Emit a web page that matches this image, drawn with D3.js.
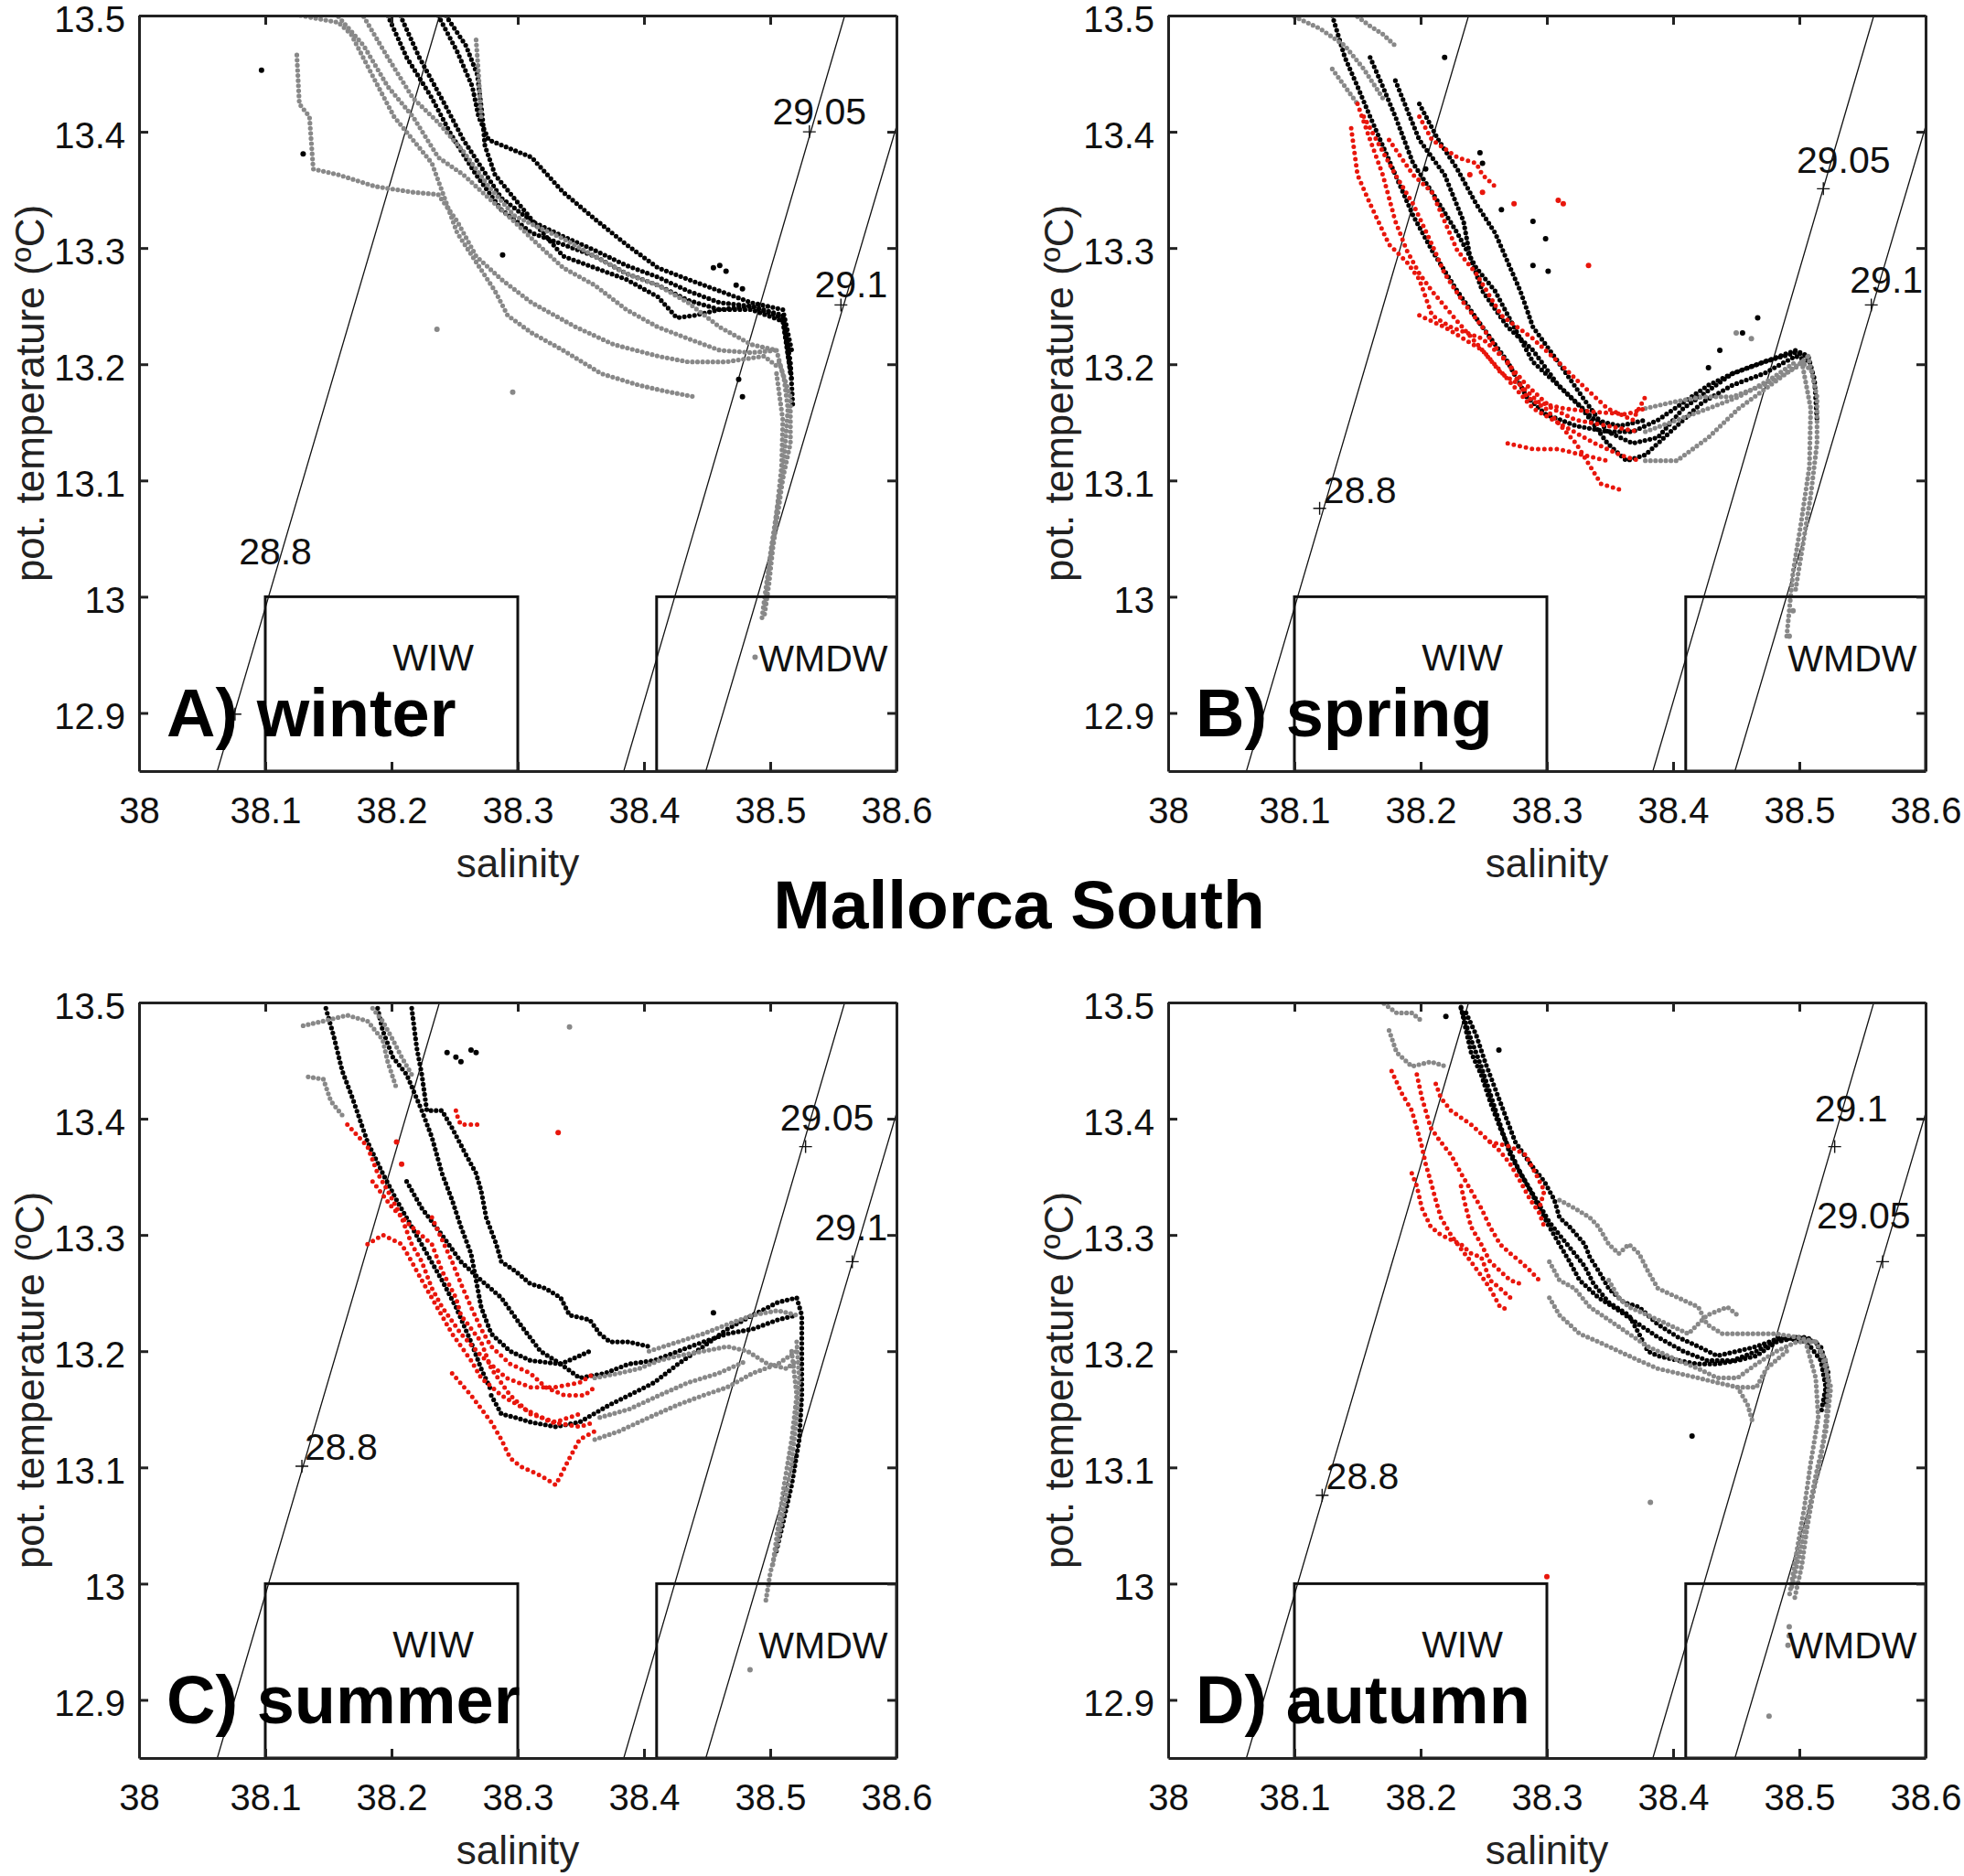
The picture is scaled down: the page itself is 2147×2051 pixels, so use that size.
<!DOCTYPE html>
<html>
<head>
<meta charset="utf-8">
<script src="https://cdn.jsdelivr.net/npm/d3@7"></script>
<style>
  body { margin: 0; background: #fff; }
  svg { display: block; }
</style>
</head>
<body>
<svg id="chart" width="2147" height="2051"></svg>
<script>
// axis ticks
var xTicks = [38, 38.1, 38.2, 38.3, 38.4, 38.5, 38.6];
var yTicks = [12.9, 13.0, 13.1, 13.2, 13.3, 13.4, 13.5];

// isopycnals: salinity at T = 12.85 and T = 13.5
var isoLines = [
  [[38.062, 12.85], [38.238, 13.5]],
  [[38.384, 12.85], [38.559, 13.5]],
  [[38.449, 12.85], [38.626, 13.5]]
];

// water mass boxes
var boxes = [
  {name: "WIW",  s: [38.10, 38.30], t: [12.85, 13.0], at: [38.233, 12.948]},
  {name: "WMDW", s: [38.41, 38.60], t: [12.85, 13.0], at: [38.542, 12.947]}
];

// ---- A) winter ----
var winterBlack = [
  [[38.197,13.500],[38.212,13.464],[38.232,13.429],[38.247,13.398],[38.267,13.363],[38.287,13.333],[38.311,13.313],[38.336,13.303],[38.361,13.293],[38.386,13.278],[38.411,13.268],[38.435,13.255],[38.460,13.247],[38.485,13.250],[38.510,13.240],[38.516,13.202],[38.518,13.162]],
  [[38.207,13.500],[38.222,13.464],[38.242,13.424],[38.257,13.393],[38.272,13.368],[38.287,13.343],[38.311,13.323],[38.336,13.310],[38.361,13.298],[38.386,13.285],[38.411,13.275],[38.435,13.263],[38.460,13.253],[38.485,13.250],[38.510,13.242],[38.516,13.192]],
  [[38.237,13.500],[38.252,13.469],[38.264,13.439],[38.269,13.413],[38.277,13.393],[38.311,13.378],[38.336,13.348],[38.361,13.325],[38.386,13.303],[38.411,13.283],[38.435,13.273],[38.460,13.263],[38.485,13.253],[38.510,13.247],[38.517,13.212]],
  [[38.243,13.500],[38.259,13.474],[38.268,13.449],[38.272,13.413],[38.274,13.388],[38.282,13.363],[38.297,13.343],[38.316,13.318],[38.336,13.293],[38.361,13.283],[38.386,13.273],[38.411,13.258],[38.426,13.240],[38.440,13.242],[38.460,13.247],[38.485,13.247],[38.510,13.237],[38.517,13.187]]
];
var winterGray = [
  [[38.125,13.466],[38.127,13.424],[38.135,13.413],[38.138,13.368],[38.158,13.363],[38.187,13.353],[38.217,13.348],[38.237,13.346],[38.252,13.323],[38.267,13.293],[38.287,13.273],[38.311,13.253],[38.346,13.232],[38.376,13.217],[38.411,13.207],[38.435,13.202],[38.465,13.202],[38.495,13.207],[38.507,13.197]],
  [[38.128,13.500],[38.158,13.494],[38.168,13.484],[38.187,13.444],[38.202,13.413],[38.217,13.393],[38.232,13.373],[38.242,13.343],[38.252,13.313],[38.267,13.288],[38.282,13.263],[38.292,13.242],[38.311,13.227],[38.336,13.212],[38.366,13.192],[38.396,13.182],[38.416,13.177],[38.440,13.172]],
  [[38.158,13.499],[38.178,13.474],[38.197,13.439],[38.217,13.413],[38.237,13.378],[38.257,13.363],[38.277,13.343],[38.297,13.323],[38.316,13.303],[38.336,13.283],[38.361,13.268],[38.386,13.247],[38.411,13.232],[38.435,13.222],[38.460,13.212],[38.485,13.210],[38.505,13.212]],
  [[38.178,13.499],[38.197,13.464],[38.217,13.429],[38.237,13.408],[38.257,13.383],[38.277,13.353],[38.297,13.328],[38.316,13.318],[38.336,13.308],[38.361,13.293],[38.386,13.278],[38.411,13.268],[38.435,13.253],[38.460,13.232],[38.485,13.217],[38.505,13.212]],
  [[38.267,13.479],[38.269,13.449],[38.271,13.413]],
  [[38.505,13.212],[38.511,13.187],[38.514,13.162],[38.512,13.132],[38.510,13.102],[38.506,13.071],[38.502,13.041],[38.499,13.011],[38.495,12.981]],
  [[38.507,13.202],[38.516,13.172],[38.516,13.132],[38.507,13.087],[38.500,13.036],[38.496,12.991]],
  [[38.505,13.192],[38.510,13.152],[38.509,13.112],[38.504,13.061],[38.497,13.011],[38.493,12.978]]
];
var winterRed = [];
var winterBlackDots = [[38.097,13.453],[38.130,13.381],[38.288,13.294],[38.455,13.283],[38.460,13.285],[38.465,13.280],[38.473,13.268],[38.478,13.265],[38.475,13.187],[38.478,13.172]];
var winterGrayDots = [[38.236,13.230],[38.296,13.176],[38.488,12.948]];
var winterRedDots = [];
var winterIso = [
  {text: "28.8",  plus: [38.076,12.899], at: [38.108,13.039]},
  {text: "29.05", plus: [38.531,13.400], at: [38.539,13.418]},
  {text: "29.1",  plus: [38.556,13.251], at: [38.564,13.269]}
];

// ---- B) spring ----
var springBlack = [
  [[38.130,13.500],[38.140,13.464],[38.150,13.439],[38.160,13.413],[38.170,13.388],[38.180,13.363],[38.194,13.328],[38.209,13.298],[38.229,13.263],[38.249,13.232],[38.269,13.202],[38.284,13.172],[38.299,13.157],[38.323,13.147],[38.348,13.142],[38.368,13.142],[38.388,13.152],[38.408,13.167],[38.428,13.182],[38.447,13.192],[38.472,13.202],[38.497,13.210],[38.507,13.207],[38.512,13.187],[38.514,13.152]],
  [[38.160,13.464],[38.170,13.439],[38.180,13.413],[38.194,13.373],[38.209,13.348],[38.229,13.313],[38.244,13.283],[38.259,13.263],[38.274,13.232],[38.289,13.202],[38.309,13.182],[38.328,13.162],[38.348,13.132],[38.363,13.117],[38.378,13.122],[38.398,13.142],[38.423,13.167],[38.447,13.182],[38.472,13.192],[38.497,13.207],[38.509,13.202]],
  [[38.199,13.424],[38.214,13.393],[38.229,13.368],[38.244,13.338],[38.259,13.313],[38.279,13.263],[38.289,13.232],[38.309,13.202],[38.328,13.172],[38.348,13.142],[38.368,13.132],[38.388,13.137],[38.408,13.162],[38.447,13.192],[38.497,13.212],[38.507,13.207]],
  [[38.180,13.444],[38.199,13.393],[38.219,13.363],[38.234,13.323],[38.239,13.293],[38.249,13.263],[38.269,13.232],[38.289,13.212],[38.309,13.182],[38.338,13.152],[38.358,13.147],[38.378,13.152]]
];
var springGray = [
  [[38.100,13.499],[38.120,13.489],[38.140,13.474],[38.155,13.454],[38.170,13.429]],
  [[38.150,13.499],[38.160,13.491],[38.170,13.484],[38.180,13.474]],
  [[38.130,13.454],[38.140,13.439],[38.150,13.424]],
  [[38.378,13.162],[38.398,13.167],[38.423,13.172],[38.447,13.172],[38.472,13.182],[38.497,13.197],[38.507,13.207]],
  [[38.378,13.117],[38.403,13.117],[38.428,13.137],[38.452,13.162],[38.477,13.182],[38.502,13.202],[38.512,13.192]],
  [[38.378,13.142],[38.403,13.152],[38.428,13.162],[38.452,13.172],[38.477,13.187],[38.497,13.202]],
  [[38.507,13.207],[38.514,13.172],[38.514,13.132],[38.509,13.087],[38.503,13.046],[38.497,13.006]],
  [[38.502,13.202],[38.509,13.162],[38.508,13.112],[38.501,13.061],[38.495,13.021],[38.490,12.966]]
];
var springRed = [
  [[38.150,13.424],[38.160,13.393],[38.170,13.363],[38.180,13.323],[38.189,13.298],[38.199,13.278],[38.209,13.263],[38.229,13.237],[38.249,13.212],[38.269,13.187],[38.289,13.162],[38.313,13.147],[38.338,13.132],[38.358,13.122],[38.373,13.117]],
  [[38.155,13.413],[38.170,13.383],[38.180,13.363],[38.194,13.338],[38.209,13.303],[38.219,13.278],[38.234,13.253],[38.249,13.232],[38.264,13.207],[38.284,13.182],[38.304,13.162],[38.323,13.152],[38.348,13.147],[38.373,13.142]],
  [[38.145,13.403],[38.150,13.363],[38.160,13.338],[38.175,13.303],[38.189,13.288],[38.199,13.273],[38.209,13.242],[38.224,13.232],[38.249,13.222],[38.269,13.202],[38.284,13.172],[38.299,13.162],[38.323,13.132],[38.343,13.097],[38.358,13.092]],
  [[38.175,13.393],[38.194,13.363],[38.209,13.348],[38.219,13.323],[38.229,13.298],[38.244,13.278],[38.264,13.242],[38.289,13.222],[38.309,13.202],[38.328,13.182],[38.348,13.162],[38.368,13.152],[38.378,13.172]],
  [[38.199,13.413],[38.209,13.393],[38.229,13.378],[38.244,13.373],[38.249,13.363],[38.259,13.353]],
  [[38.269,13.132],[38.289,13.127],[38.309,13.127],[38.328,13.122],[38.348,13.117]],
  [[38.199,13.242],[38.219,13.232],[38.234,13.222],[38.249,13.212],[38.264,13.192],[38.279,13.182],[38.294,13.167],[38.313,13.162],[38.338,13.159],[38.363,13.157],[38.378,13.162]]
];
var springBlackDots = [[38.219,13.464],[38.247,13.382],[38.249,13.373],[38.264,13.333],[38.289,13.323],[38.299,13.308],[38.289,13.285],[38.301,13.280],[38.467,13.240],[38.455,13.227],[38.437,13.212],[38.428,13.197],[38.204,13.368]];
var springGrayDots = [[38.450,13.227],[38.462,13.222],[38.495,12.988],[38.492,12.966]];
var springRedDots = [[38.309,13.341],[38.313,13.338],[38.333,13.285],[38.274,13.338],[38.249,13.348],[38.239,13.363]];
var springIso = [
  {text: "28.8",  plus: [38.120,13.076], at: [38.152,13.092]},
  {text: "29.05", plus: [38.519,13.351], at: [38.535,13.376]},
  {text: "29.1",  plus: [38.557,13.251], at: [38.569,13.273]}
];

// ---- C) summer ----
var summerBlack = [
  [[38.216,13.495],[38.220,13.461],[38.224,13.438],[38.228,13.407],[38.240,13.407],[38.248,13.392],[38.259,13.369],[38.267,13.353],[38.271,13.338],[38.275,13.315],[38.283,13.292],[38.287,13.277],[38.298,13.269],[38.310,13.258],[38.322,13.254],[38.334,13.246],[38.341,13.231],[38.357,13.227],[38.365,13.215],[38.373,13.208],[38.388,13.208],[38.404,13.204]],
  [[38.148,13.495],[38.154,13.472],[38.161,13.441],[38.169,13.418],[38.181,13.380],[38.193,13.353],[38.204,13.330],[38.216,13.307],[38.228,13.284],[38.240,13.261],[38.251,13.238],[38.263,13.208],[38.271,13.185],[38.279,13.166]],
  [[38.189,13.495],[38.193,13.476],[38.201,13.453],[38.212,13.438],[38.224,13.407],[38.232,13.384],[38.240,13.353],[38.248,13.330],[38.255,13.307],[38.263,13.284],[38.267,13.261],[38.271,13.238],[38.279,13.215],[38.294,13.200],[38.310,13.192],[38.334,13.189],[38.349,13.196],[38.357,13.200]],
  [[38.212,13.346],[38.224,13.323],[38.240,13.300],[38.255,13.277],[38.271,13.261],[38.287,13.246],[38.302,13.223],[38.318,13.200],[38.334,13.189]],
  [[38.279,13.162],[38.287,13.146],[38.298,13.143],[38.310,13.139],[38.330,13.135],[38.349,13.139],[38.373,13.154],[38.388,13.162],[38.408,13.173],[38.427,13.189],[38.447,13.204],[38.466,13.219],[38.486,13.231],[38.506,13.242],[38.521,13.246],[38.525,13.231],[38.525,13.200],[38.525,13.162],[38.523,13.124],[38.517,13.085],[38.509,13.047],[38.504,13.024]],
  [[38.334,13.189],[38.349,13.177],[38.369,13.181],[38.388,13.189],[38.408,13.192],[38.427,13.200],[38.447,13.208],[38.466,13.215],[38.486,13.219],[38.506,13.227],[38.521,13.231]]
];
var summerGray = [
  [[38.130,13.480],[38.146,13.484],[38.165,13.489],[38.181,13.484],[38.193,13.468],[38.197,13.449],[38.204,13.426]],
  [[38.134,13.436],[38.146,13.434],[38.152,13.415],[38.161,13.403]],
  [[38.185,13.495],[38.193,13.484],[38.201,13.468],[38.208,13.453],[38.216,13.438]],
  [[38.361,13.177],[38.380,13.181],[38.396,13.185],[38.412,13.192],[38.427,13.196],[38.447,13.200],[38.466,13.204],[38.482,13.200],[38.498,13.189],[38.513,13.185],[38.521,13.192]],
  [[38.361,13.124],[38.380,13.131],[38.404,13.143],[38.427,13.154],[38.447,13.162],[38.466,13.169],[38.486,13.181],[38.506,13.189],[38.521,13.200]],
  [[38.365,13.143],[38.388,13.150],[38.412,13.162],[38.435,13.173],[38.459,13.181],[38.482,13.192]],
  [[38.404,13.200],[38.427,13.208],[38.447,13.215],[38.466,13.223],[38.486,13.231],[38.506,13.235],[38.521,13.231]],
  [[38.521,13.208],[38.523,13.177],[38.521,13.143],[38.517,13.104],[38.511,13.066],[38.506,13.035],[38.500,13.009],[38.496,12.982]],
  [[38.517,13.200],[38.521,13.162],[38.517,13.124],[38.511,13.085],[38.506,13.047],[38.502,13.016]]
];
var summerRed = [
  [[38.181,13.292],[38.193,13.300],[38.208,13.292],[38.216,13.277],[38.224,13.261],[38.236,13.238],[38.248,13.215],[38.263,13.192],[38.271,13.177],[38.287,13.162],[38.306,13.150],[38.326,13.139],[38.349,13.135],[38.361,13.139]],
  [[38.165,13.395],[38.181,13.376],[38.189,13.353],[38.197,13.338],[38.208,13.315],[38.216,13.292],[38.224,13.277],[38.232,13.254],[38.240,13.238],[38.255,13.215],[38.271,13.196],[38.291,13.177],[38.310,13.169],[38.330,13.169],[38.349,13.173],[38.361,13.181]],
  [[38.185,13.346],[38.201,13.323],[38.216,13.307],[38.232,13.292],[38.240,13.269],[38.251,13.246],[38.255,13.231],[38.271,13.208],[38.279,13.185],[38.294,13.162],[38.310,13.146],[38.330,13.139],[38.349,13.146]],
  [[38.248,13.181],[38.263,13.162],[38.279,13.139],[38.287,13.124],[38.294,13.108],[38.302,13.101],[38.318,13.093],[38.330,13.085],[38.334,13.093],[38.341,13.108],[38.349,13.124],[38.361,13.131]],
  [[38.232,13.315],[38.240,13.296],[38.248,13.277],[38.255,13.258],[38.263,13.238],[38.271,13.219],[38.279,13.204],[38.294,13.189],[38.310,13.181],[38.322,13.169],[38.337,13.162],[38.353,13.162],[38.361,13.169]],
  [[38.251,13.407],[38.253,13.399],[38.255,13.395],[38.271,13.395]]
];
var summerBlackDots = [[38.244,13.457],[38.251,13.453],[38.255,13.449],[38.267,13.457],[38.263,13.459],[38.455,13.233]];
var summerGrayDots = [[38.484,12.926],[38.341,13.479]];
var summerRedDots = [[38.332,13.388],[38.204,13.380],[38.208,13.361]];
var summerIso = [
  {text: "28.8",  plus: [38.129,13.101], at: [38.160,13.118]},
  {text: "29.05", plus: [38.528,13.376], at: [38.545,13.401]},
  {text: "29.1",  plus: [38.565,13.277], at: [38.564,13.307]}
];

// ---- D) autumn ----
var autumnBlack = [
  [[38.232,13.496],[38.236,13.476],[38.240,13.457],[38.248,13.438],[38.255,13.415],[38.263,13.392],[38.271,13.372],[38.279,13.353],[38.287,13.338],[38.294,13.323],[38.302,13.307],[38.310,13.292],[38.318,13.277],[38.326,13.261],[38.341,13.246],[38.357,13.235],[38.373,13.223],[38.388,13.212],[38.408,13.200],[38.427,13.192],[38.447,13.192],[38.466,13.200],[38.486,13.212],[38.506,13.208],[38.517,13.192],[38.521,13.169],[38.517,13.146]],
  [[38.232,13.495],[38.240,13.468],[38.248,13.445],[38.255,13.422],[38.263,13.395],[38.271,13.369],[38.283,13.346],[38.294,13.326],[38.302,13.311],[38.310,13.300],[38.322,13.284],[38.330,13.273],[38.337,13.258],[38.349,13.242],[38.365,13.231],[38.373,13.215],[38.380,13.200],[38.388,13.196],[38.404,13.192],[38.420,13.189],[38.435,13.189],[38.451,13.192],[38.466,13.196],[38.482,13.208],[38.498,13.212],[38.513,13.208],[38.521,13.189]],
  [[38.236,13.491],[38.244,13.472],[38.251,13.449],[38.259,13.426],[38.267,13.403],[38.275,13.380],[38.287,13.361],[38.298,13.346],[38.306,13.330],[38.310,13.315],[38.318,13.307],[38.330,13.292],[38.334,13.281],[38.341,13.269],[38.349,13.254],[38.361,13.242],[38.373,13.238],[38.388,13.223],[38.404,13.212],[38.420,13.204],[38.435,13.196],[38.451,13.200],[38.466,13.204],[38.486,13.212],[38.506,13.212],[38.517,13.204],[38.523,13.181],[38.521,13.154]]
];
var autumnGray = [
  [[38.171,13.499],[38.181,13.491],[38.193,13.491],[38.201,13.484]],
  [[38.175,13.476],[38.181,13.457],[38.193,13.445],[38.208,13.449],[38.220,13.445]],
  [[38.310,13.330],[38.322,13.323],[38.334,13.315],[38.341,13.307],[38.349,13.292],[38.357,13.284],[38.365,13.292],[38.373,13.284],[38.380,13.269],[38.388,13.254],[38.404,13.246],[38.420,13.238],[38.427,13.223],[38.439,13.215],[38.451,13.215],[38.466,13.215],[38.482,13.215],[38.498,13.212],[38.513,13.208]],
  [[38.302,13.277],[38.310,13.261],[38.322,13.254],[38.334,13.238],[38.349,13.227],[38.365,13.215],[38.380,13.204],[38.388,13.200],[38.404,13.192],[38.420,13.185],[38.435,13.177],[38.451,13.177],[38.466,13.189],[38.482,13.200],[38.498,13.208],[38.513,13.208]],
  [[38.302,13.246],[38.310,13.231],[38.326,13.215],[38.341,13.208],[38.357,13.200],[38.373,13.192],[38.388,13.185],[38.404,13.181],[38.420,13.177],[38.435,13.173],[38.451,13.169],[38.466,13.169],[38.474,13.185],[38.490,13.200]],
  [[38.349,13.261],[38.357,13.246],[38.365,13.238],[38.380,13.231],[38.396,13.223],[38.412,13.215],[38.427,13.231],[38.443,13.238],[38.451,13.231]],
  [[38.451,13.169],[38.459,13.154],[38.463,13.139]],
  [[38.513,13.208],[38.521,13.192],[38.523,13.169],[38.521,13.139],[38.517,13.108],[38.511,13.078],[38.506,13.047],[38.502,13.016],[38.496,12.986]],
  [[38.517,13.200],[38.525,13.169],[38.521,13.131],[38.513,13.093],[38.506,13.055],[38.500,13.024],[38.494,12.997]],
  [[38.506,13.204],[38.513,13.177],[38.515,13.143],[38.509,13.104],[38.504,13.066],[38.498,13.028],[38.492,12.989]]
];
var autumnRed = [
  [[38.177,13.441],[38.185,13.422],[38.193,13.407],[38.197,13.392],[38.201,13.376],[38.204,13.361],[38.208,13.346],[38.212,13.330],[38.216,13.315],[38.224,13.300],[38.232,13.288],[38.240,13.277],[38.248,13.265],[38.255,13.254],[38.263,13.238],[38.271,13.235]],
  [[38.197,13.438],[38.201,13.418],[38.204,13.407],[38.208,13.392],[38.216,13.380],[38.224,13.369],[38.232,13.353],[38.240,13.338],[38.248,13.323],[38.255,13.307],[38.263,13.292],[38.271,13.284],[38.279,13.277],[38.287,13.269],[38.294,13.261]],
  [[38.193,13.353],[38.197,13.342],[38.201,13.323],[38.208,13.307],[38.216,13.300],[38.232,13.292],[38.240,13.284],[38.248,13.281],[38.255,13.261],[38.263,13.254],[38.271,13.246]],
  [[38.212,13.430],[38.216,13.418],[38.224,13.407],[38.240,13.395],[38.251,13.384],[38.263,13.372],[38.271,13.361],[38.279,13.346],[38.287,13.330],[38.294,13.319],[38.298,13.307]],
  [[38.255,13.380],[38.271,13.376],[38.283,13.369],[38.291,13.353],[38.298,13.338],[38.294,13.323]],
  [[38.232,13.342],[38.236,13.323],[38.240,13.307],[38.248,13.292],[38.255,13.277],[38.263,13.269],[38.271,13.261],[38.279,13.258]]
];
var autumnBlackDots = [[38.262,13.459],[38.415,13.127],[38.220,13.488]];
var autumnGrayDots = [[38.382,13.070],[38.492,12.955],[38.491,12.947],[38.492,12.963],[38.476,12.886]];
var autumnRedDots = [[38.300,13.006]];
var autumnIso = [
  {text: "28.8",  plus: [38.122,13.076], at: [38.154,13.093]},
  {text: "29.1",  plus: [38.528,13.376], at: [38.541,13.409]},
  {text: "29.05", plus: [38.566,13.277], at: [38.551,13.317]}
];

// ---- layout ----
var W = 828, H = 826;
var FONT = "'Liberation Sans', Arial, Helvetica, sans-serif";
var panels = [
  {key: "a", name: "A) winter", ox: 152,  oy: 17,   black: winterBlack, gray: winterGray, red: winterRed, bDots: winterBlackDots, gDots: winterGrayDots, rDots: winterRedDots, iso: winterIso},
  {key: "b", name: "B) spring", ox: 1277, oy: 17,   black: springBlack, gray: springGray, red: springRed, bDots: springBlackDots, gDots: springGrayDots, rDots: springRedDots, iso: springIso},
  {key: "c", name: "C) summer", ox: 152,  oy: 1096, black: summerBlack, gray: summerGray, red: summerRed, bDots: summerBlackDots, gDots: summerGrayDots, rDots: summerRedDots, iso: summerIso},
  {key: "d", name: "D) autumn", ox: 1277, oy: 1096, black: autumnBlack, gray: autumnGray, red: autumnRed, bDots: autumnBlackDots, gDots: autumnGrayDots, rDots: autumnRedDots, iso: autumnIso}
];
var colors = {black: "#000000", gray: "#888888", red: "#e8160c"};

var svg = d3.select("#chart");
svg.append("rect").attr("width", 2147).attr("height", 2051).attr("fill", "#fff");

var x = d3.scaleLinear().domain([38, 38.6]).range([0, W]);
var y = d3.scaleLinear().domain([12.85, 13.5]).range([H, 0]);
var line = d3.line().x(function(d){ return x(d[0]); }).y(function(d){ return y(d[1]); });
var fmt = function(d){ return String(+d.toFixed(1)); };

function styleAxis(g) {
  g.attr("font-family", FONT).attr("font-size", 40);
  g.selectAll("path.domain").attr("stroke", "#222").attr("stroke-width", 3);
  g.selectAll(".tick line").attr("stroke", "#222").attr("stroke-width", 3);
  g.selectAll(".tick text").attr("fill", "#111");
}

function traces(g, list, color, gap, width) {
  g.selectAll(null).data(list).enter().append("path")
    .attr("d", line)
    .attr("fill", "none")
    .attr("stroke", color)
    .attr("stroke-width", width)
    .attr("stroke-linecap", "round")
    .attr("stroke-dasharray", "0 " + gap);
}

function dots(g, list, color) {
  g.selectAll(null).data(list).enter().append("circle")
    .attr("cx", function(d){ return x(d[0]); })
    .attr("cy", function(d){ return y(d[1]); })
    .attr("r", 3)
    .attr("fill", color);
}

function drawPanel(p) {
  var g = svg.append("g").attr("transform", "translate(" + p.ox + "," + p.oy + ")");
  g.append("clipPath").attr("id", "clip-" + p.key)
    .append("rect").attr("width", W).attr("height", H);
  var plot = g.append("g").attr("clip-path", "url(#clip-" + p.key + ")");

  // isopycnals
  plot.selectAll(null).data(isoLines).enter().append("path")
    .attr("d", line).attr("fill", "none").attr("stroke", "#111").attr("stroke-width", 1.3);

  // data
  traces(plot, p.black, colors.black, 5.6, 5.2);
  dots(plot, p.bDots, colors.black);
  traces(plot, p.gray, colors.gray, 5.6, 5.2);
  dots(plot, p.gDots, colors.gray);
  traces(plot, p.red, colors.red, 6.8, 5.0);
  dots(plot, p.rDots, colors.red);

  // water mass boxes
  boxes.forEach(function(b){
    plot.append("rect")
      .attr("x", x(b.s[0])).attr("y", y(b.t[1]))
      .attr("width", x(b.s[1]) - x(b.s[0])).attr("height", y(b.t[0]) - y(b.t[1]))
      .attr("fill", "none").attr("stroke", "#111").attr("stroke-width", 3);
    g.append("text")
      .attr("x", x(b.at[0])).attr("y", y(b.at[1])).attr("dy", "0.35em")
      .attr("text-anchor", "middle").attr("font-family", FONT).attr("font-size", 41)
      .attr("fill", "#111").text(b.name);
  });

  // isopycnal labels
  p.iso.forEach(function(l){
    var px = x(l.plus[0]), py = y(l.plus[1]);
    plot.append("path")
      .attr("d", "M" + (px - 7) + "," + py + "H" + (px + 7) + "M" + px + "," + (py - 7) + "V" + (py + 7))
      .attr("stroke", "#111").attr("stroke-width", 1.4);
    g.append("text")
      .attr("x", x(l.at[0])).attr("y", y(l.at[1])).attr("dy", "0.35em")
      .attr("text-anchor", "middle").attr("font-family", FONT).attr("font-size", 41)
      .attr("fill", "#111").text(l.text);
  });

  // panel label
  g.append("text").attr("x", 30).attr("y", 788)
    .attr("font-family", FONT).attr("font-size", 74).attr("font-weight", "bold")
    .attr("fill", "#000").text(p.name);

  // axes with inward ticks on all sides
  g.append("g").attr("transform", "translate(0," + H + ")")
    .call(d3.axisBottom(x).tickValues(xTicks).tickFormat(fmt).tickSizeInner(-10).tickSizeOuter(0).tickPadding(29))
    .call(styleAxis);
  g.append("g")
    .call(d3.axisTop(x).tickValues(xTicks).tickFormat("").tickSizeInner(-10).tickSizeOuter(0))
    .call(styleAxis);
  g.append("g")
    .call(d3.axisLeft(y).tickValues(yTicks).tickFormat(fmt).tickSizeInner(-10).tickSizeOuter(0).tickPadding(15))
    .call(styleAxis)
    .selectAll(".tick text").attr("dy", "0.43em");
  g.append("g").attr("transform", "translate(" + W + ",0)")
    .call(d3.axisRight(y).tickValues(yTicks).tickFormat("").tickSizeInner(-10).tickSizeOuter(0))
    .call(styleAxis);

  // axis titles
  g.append("text").attr("x", W / 2).attr("y", H + 116)
    .attr("text-anchor", "middle").attr("font-family", FONT).attr("font-size", 44)
    .attr("fill", "#222").text("salinity");
  g.append("text").attr("transform", "translate(-104," + (H / 2) + ") rotate(-90)")
    .attr("text-anchor", "middle").attr("font-family", FONT).attr("font-size", 44)
    .attr("fill", "#222").text("pot. temperature (ºC)");
}

panels.forEach(drawPanel);

svg.append("text").attr("x", 1114).attr("y", 1015)
  .attr("text-anchor", "middle").attr("font-family", FONT).attr("font-size", 75)
  .attr("font-weight", "bold").attr("fill", "#000").text("Mallorca South");
</script>
</body>
</html>
